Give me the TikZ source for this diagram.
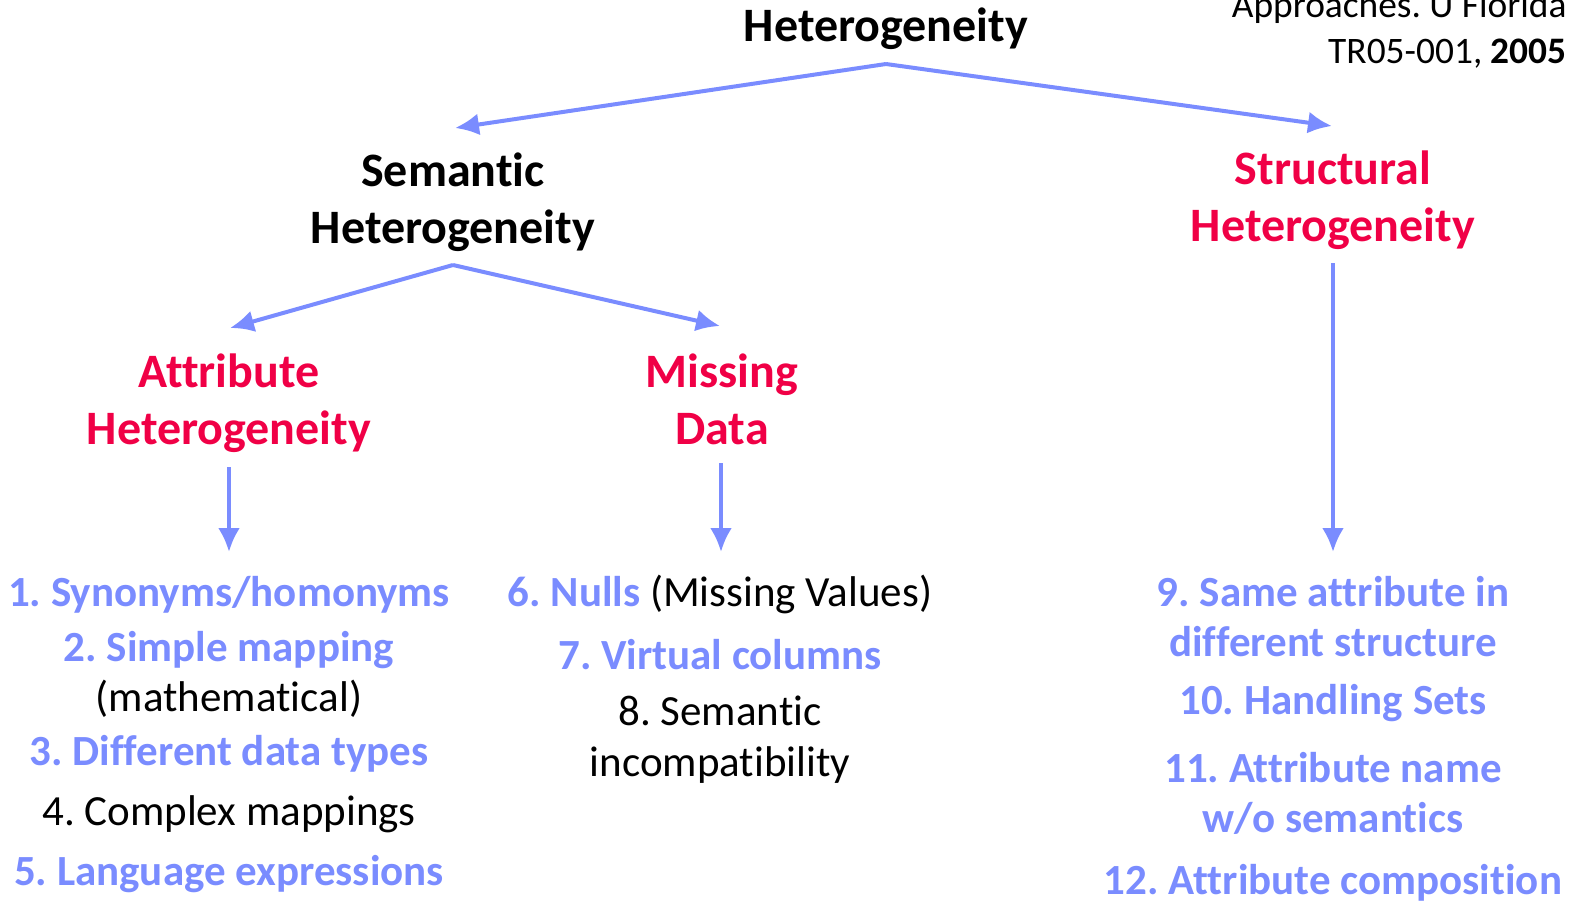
\documentclass[tikz,border=0pt]{standalone}
\usepackage{fontspec}
\setmainfont[Ligatures=NoCommon]{Carlito}
\usetikzlibrary{arrows.meta}
\frenchspacing

\begin{document}
\begin{tikzpicture}[x=0.5pt,y=-0.5pt,>={Latex[length=12pt,width=11pt]},
  link/.style={->,draw=hetblue,line width=2pt},
  head/.style={font=\fontsize{24}{28.5}\selectfont\bfseries,align=center,inner sep=0pt},
  item/.style={font=\fontsize{21.5}{25}\selectfont,anchor=base,inner sep=0pt},
  good/.style={item,text=hetblue,font=\fontsize{21.5}{25}\selectfont\bfseries}]

\definecolor{hetblue}{RGB}{122,140,255}
\definecolor{hetred}{RGB}{240,0,70}

\useasboundingbox (0,0) rectangle (1575,906);

% reference in the corner
\node[item,anchor=base east,font=\fontsize{18.7}{22}\selectfont] (refa) at (1567,17) {Approaches. U Florida};
\node[item,anchor=base east,font=\fontsize{18.7}{22}\selectfont] (refb) at (1567,63) {TR05-001, \textbf{2005}};

% tree
\node[head] (het) at (886,29) {Heterogeneity};
\node[head] (sem) at (453,202) {Semantic\\Heterogeneity};
\node[head,text=hetred] (str) at (1333,200) {Structural\\Heterogeneity};
\node[head,text=hetred] (att) at (229,403) {Attribute\\Heterogeneity};
\node[head,text=hetred] (mis) at (722,399) {Missing\\Data};

\coordinate (hetb) at (886,64);
\coordinate (semt) at (455,128);
\coordinate (strt) at (1332,126);
\coordinate (semb) at (453,265);
\coordinate (attt) at (230,328);
\coordinate (mist) at (720,326);
\coordinate (attb) at (229,467);
\coordinate (misb) at (721,463);
\coordinate (strb) at (1333,263);
\coordinate (attl) at (229,552);
\coordinate (misl) at (721,552);
\coordinate (strl) at (1333,552);

\draw[link] (hetb) -- (semt);
\draw[link] (hetb) -- (strt);
\draw[link] (semb) -- (attt);
\draw[link] (semb) -- (mist);
\draw[link] (attb) -- (attl);
\draw[link] (misb) -- (misl);
\draw[link] (strb) -- (strl);

% attribute list
\node[good] (a1) at (229,606) {1. Synonyms/homonyms};
\node[good] (a2) at (229,661) {2. Simple mapping};
\node[item] (a2b) at (229,711) {(mathematical)};
\node[good] (a3) at (229,765) {3. Different data types};
\node[item] (a4) at (229,825) {4. Complex mappings};
\node[good] (a5) at (229,885) {5. Language expressions};

% missing data list
\node[item] (m6) at (720,606) {\textcolor{hetblue}{\bfseries 6. Nulls} (Missing Values)};
\node[good] (m7) at (720,669) {7. Virtual columns};
\node[item] (m8) at (720,725) {8. Semantic};
\node[item] (m8b) at (720,776) {incompatibility};

% structural list
\node[good] (s9) at (1333,606) {9. Same attribute in};
\node[good] (s9b) at (1333,656) {different structure};
\node[good] (s10) at (1333,714) {10. Handling Sets};
\node[good] (s11) at (1333,782) {11. Attribute name};
\node[good] (s11b) at (1333,832) {w/o semantics};
\node[good] (s12) at (1333,894) {12. Attribute composition};

\end{tikzpicture}
\end{document}
